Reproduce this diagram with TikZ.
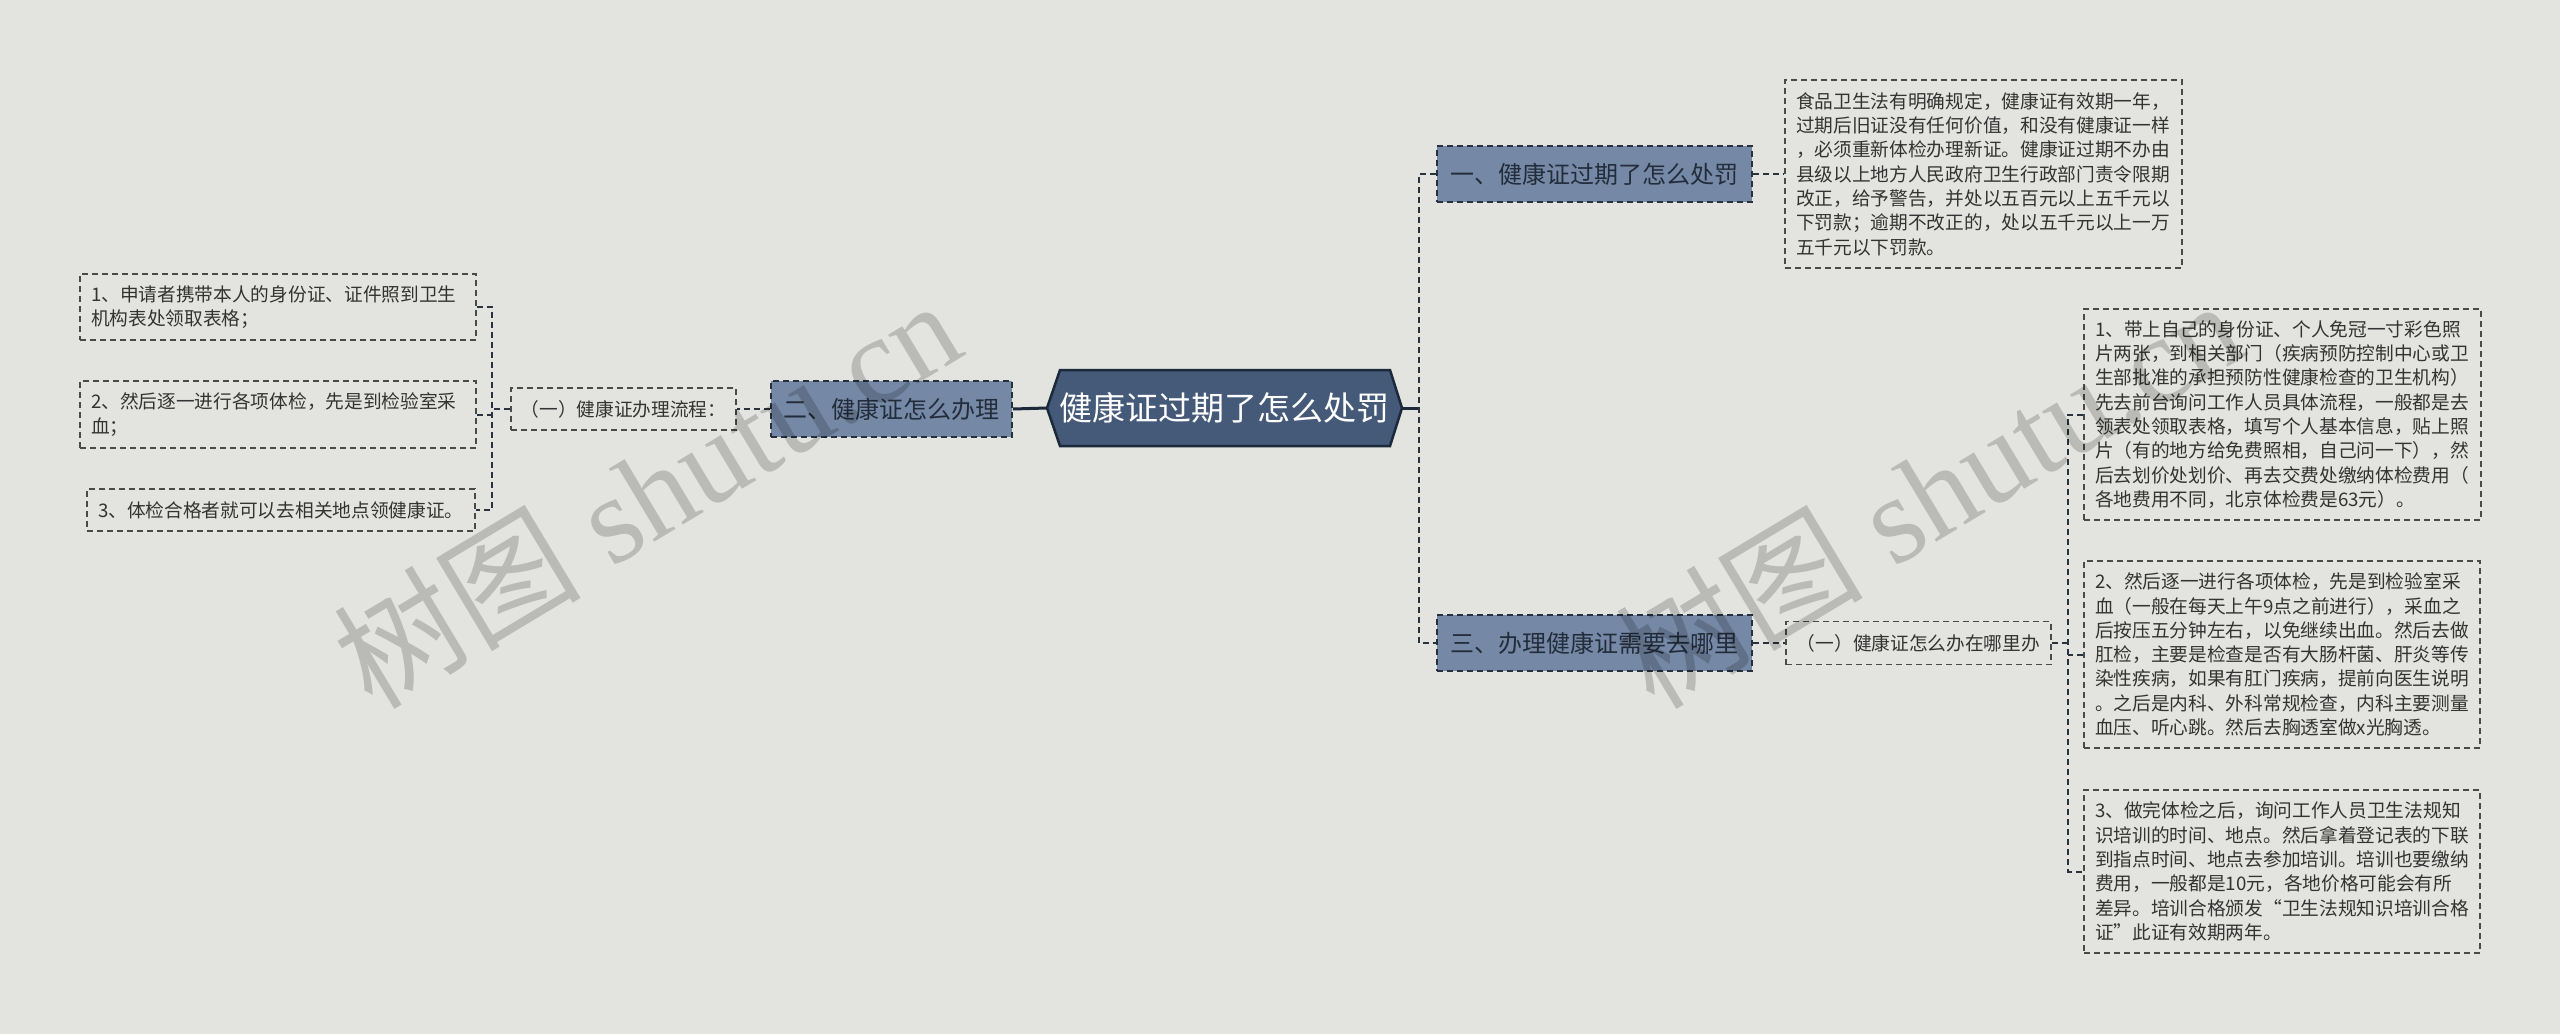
\documentclass[tikz,border=0pt]{standalone}
\usepackage{fontspec}
\setmainfont{Liberation Serif}
\newfontfamily\cjk{Noto Sans CJK SC}
\usetikzlibrary{calc}
\definecolor{bgc}{HTML}{E3E3DF}
\definecolor{rootfill}{HTML}{445A78}
\definecolor{rootline}{HTML}{1B293A}
\definecolor{brfill}{HTML}{7589A6}
\definecolor{brline}{HTML}{26303F}
\definecolor{brtext}{HTML}{232C3A}
\definecolor{lfline}{HTML}{4A4A4A}
\definecolor{lftext}{HTML}{333333}
\definecolor{conncol}{HTML}{2A323E}
\tikzset{
  leafbox/.style={draw=lfline, line width=1.4pt, dash pattern=on 6pt off 4pt,
    text=lftext, font=\cjk\fontsize{18.7}{24.3}\selectfont, align=left,
    inner xsep=11pt, inner ysep=0pt},
  subbox/.style={draw=lfline, line width=1.4pt, dash pattern=on 6pt off 4pt,
    text=lftext, font=\cjk\fontsize{18.7}{24.3}\selectfont,
    inner xsep=0pt, inner ysep=0pt},
  branchbox/.style={draw=brline, fill=brfill, line width=1.8pt, dash pattern=on 6pt off 4pt,
    text=brtext, font=\cjk\fontsize{24}{28}\selectfont, inner sep=0pt, minimum height=56pt},
  rootbox/.style={text=white, font=\cjk\fontsize{33}{38}\selectfont, inner sep=0pt,
    minimum width=355pt, minimum height=77pt},
  conn/.style={draw=conncol, line width=2pt, dash pattern=on 6pt off 4pt},
  rootconn/.style={draw=rootline, line width=3pt},
  wmark/.style={text=black, text opacity=0.18, font=\fontsize{124}{130}\selectfont,
    rotate=31, anchor=base west, inner sep=0pt}
}
\begin{document}
\begin{tikzpicture}[x=1pt,y=-1pt]
\useasboundingbox (0,0) rectangle (2560,1034);
\fill[bgc] (0,0) rectangle (2560,1034);

% root hexagon
\filldraw[fill=rootfill, draw=rootline, line width=2.5pt, line join=miter]
  (1047,408) -- (1060,370) -- (1390,370) -- (1402,408) -- (1390,446) -- (1060,446) -- cycle;
\node[rootbox] (root) at (1224.5,408) {健康证过期了怎么处罚};

% branches
\node[branchbox, minimum width=315pt] (b1) at (1594.5,174) {一、健康证过期了怎么处罚};
\node[branchbox, minimum width=241pt] (b2) at (891.5,409) {二、健康证怎么办理};
\node[branchbox, minimum width=315pt] (b3) at (1594.5,643) {三、办理健康证需要去哪里};

% sub nodes
\node[subbox, minimum width=225pt, minimum height=42pt] (sub2) at (623.5,409) {（一）健康证办理流程：};
\node[subbox, minimum width=265pt, minimum height=43pt] (sub3) at (1918.5,643) {（一）健康证怎么办在哪里办};

% leaves
\node[leafbox, text width=375pt, minimum height=188pt] (t1) at (1983.5,174) {食品卫生法有明确规定，健康证有效期一年，\\
过期后旧证没有任何价值，和没有健康证一样\\
，必须重新体检办理新证。健康证过期不办由\\
县级以上地方人民政府卫生行政部门责令限期\\
改正，给予警告，并处以五百元以上五千元以\\
下罚款；逾期不改正的，处以五千元以上一万\\
五千元以下罚款。};

\node[leafbox, text width=374pt, minimum height=66pt] (L1) at (278,307) {1、申请者携带本人的身份证、证件照到卫生\\机构表处领取表格；};
\node[leafbox, text width=374pt, minimum height=67pt] (L2) at (278,414.5) {2、然后逐一进行各项体检，先是到检验室采\\血；};
\node[leafbox, text width=366pt, minimum height=42pt] (L3) at (281,510) {3、体检合格者就可以去相关地点领健康证。};

\node[leafbox, text width=375pt, minimum height=211pt] (RA) at (2282.5,414.5) {1、带上自己的身份证、个人免冠一寸彩色照\\
片两张，到相关部门（疾病预防控制中心或卫\\
生部批准的承担预防性健康检查的卫生机构）\\
先去前台询问工作人员具体流程，一般都是去\\
领表处领取表格，填写个人基本信息，贴上照\\
片（有的地方给免费照相，自己问一下），然\\
后去划价处划价、再去交费处缴纳体检费用（\\
各地费用不同，北京体检费是63元）。};

\node[leafbox, text width=374pt, minimum height=187pt] (RB) at (2282,654.5) {2、然后逐一进行各项体检，先是到检验室采\\
血（一般在每天上午9点之前进行），采血之\\
后按压五分钟左右，以免继续出血。然后去做\\
肛检，主要是检查是否有大肠杆菌、肝炎等传\\
染性疾病，如果有肛门疾病，提前向医生说明\\
。之后是内科、外科常规检查，内科主要测量\\
血压、听心跳。然后去胸透室做x光胸透。};

\node[leafbox, text width=374pt, minimum height=163pt] (RC) at (2282,871.5) {3、做完体检之后，询问工作人员卫生法规知\\
识培训的时间、地点。然后拿着登记表的下联\\
到指点时间、地点去参加培训。培训也要缴纳\\
费用，一般都是10元，各地价格可能会有所\\
差异。培训合格颁发“卫生法规知识培训合格\\
证”此证有效期两年。};

% connectors: root
\coordinate (rtrunk) at (1419,408);
\draw[rootconn] (root.east) -- (rtrunk);
\draw[rootconn] (root.west) -- (b2.east);
\draw[conn] (b1.west) -- (rtrunk |- b1.west) -- (rtrunk |- b3.west) -- (b3.west);

% branch 1
\draw[conn] (b1.east) -- (t1.west);

% branch 2
\coordinate (ltrunk) at (492,409);
\draw[conn] (b2.west) -- (sub2.east);
\draw[conn] (sub2.west) -- (ltrunk);
\draw[conn] (L1.east) -- (ltrunk |- L1.east) -- (ltrunk |- L3.east) -- (L3.east);
\draw[conn] (L2.east) -- (ltrunk |- L2.east);

% branch 3
\coordinate (rtr) at (2068,643);
\draw[conn] (b3.east) -- (sub3.west);
\draw[conn] (sub3.east) -- (rtr);
\draw[conn] (RA.west) -- (rtr |- RA.west) -- (rtr |- RC.west) -- (RC.west);
\draw[conn] (RB.west) -- (rtr |- RB.west);

% watermarks
\node[wmark] (wm1) at (372,712) {{\cjk 树图} shutu.cn};
\node[wmark] (wm2) at (1654,712) {{\cjk 树图} shutu.cn};
\end{tikzpicture}
\end{document}
